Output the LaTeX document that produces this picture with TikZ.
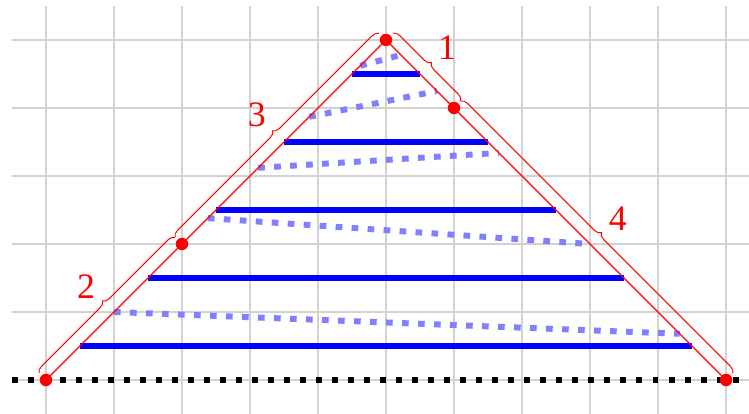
\documentclass[tikz,border=0pt]{standalone}
\usepackage{fontspec}
\setmainfont{Liberation Serif}
\usetikzlibrary{decorations.pathreplacing}

\begin{document}
\begin{tikzpicture}[
        dot/.style={circle, fill=red, inner sep=0pt, minimum size=5.2pt},
        side/.style={red, line width=0.5pt},
        bar/.style={blue, line width=2.7pt},
        hop/.style={blue!50, line width=2.5pt, dash pattern=on 2.8pt off 3.9pt},
        ground/.style={black, line width=2.5pt, dash pattern=on 2.5pt off 4.2pt},
        bracer/.style={red, line width=0.4pt, decorate, decoration={brace, amplitude=2.7pt, raise=4pt}},
        lbl/.style={red, font=\fontsize{15}{17}\selectfont}]

        \clip (-0.676,-0.5) rectangle (10.338,5.588);
        \draw[gray!35, line width=0.5pt] (-0.5,-0.5) grid (10.5,5.5);

        % Ground
        \coordinate (G0) at (-0.5,0);
        \coordinate (G1) at (10.5,0);
        \draw[ground] (G0) -- (G1);

        % Levels
        \foreach \h [count=\i] in {4.5,3.5,2.5,1.5,0.5} {
            \coordinate (L\i) at (\h,\h);
            \coordinate (R\i) at ({10-\h},\h);
            \draw[bar] (L\i) -- (R\i);
        }

        % Slanted hops
        \foreach \l/\r [count=\i] in {4.62/5.22, 3.87/5.75, 3.12/6.66, 2.38/8.0, 1.0/9.32} {
            \coordinate (P\i) at (\l,\l);
            \coordinate (Q\i) at (\r,{10-\r});
            \draw[hop] (P\i) -- (Q\i);
        }

        % Nodes
        \coordinate (A) at (0,0);
        \coordinate (B) at (2,2);
        \coordinate (T) at (5,5);
        \coordinate (C) at (6,4);
        \coordinate (D) at (10,0);

        % Sides
        \draw[side] (A) -- (T) -- (D);

        % Braces
        \draw[bracer] (T) -- (C);
        \draw[bracer] (A) -- (B);
        \draw[bracer] (B) -- (T);
        \draw[bracer] (C) -- (D);

        \node[dot] (dA) at (A) {};
        \node[dot] (dB) at (B) {};
        \node[dot] (dT) at (T) {};
        \node[dot] (dC) at (C) {};
        \node[dot] (dD) at (D) {};

        % Labels
        \node[lbl] (n1) at (5.9,4.89) {1};
        \node[lbl] (n2) at (0.59,1.37) {2};
        \node[lbl] (n3) at (3.1,3.9) {3};
        \node[lbl] (n4) at (8.41,2.37) {4};
    \end{tikzpicture}
\end{document}
